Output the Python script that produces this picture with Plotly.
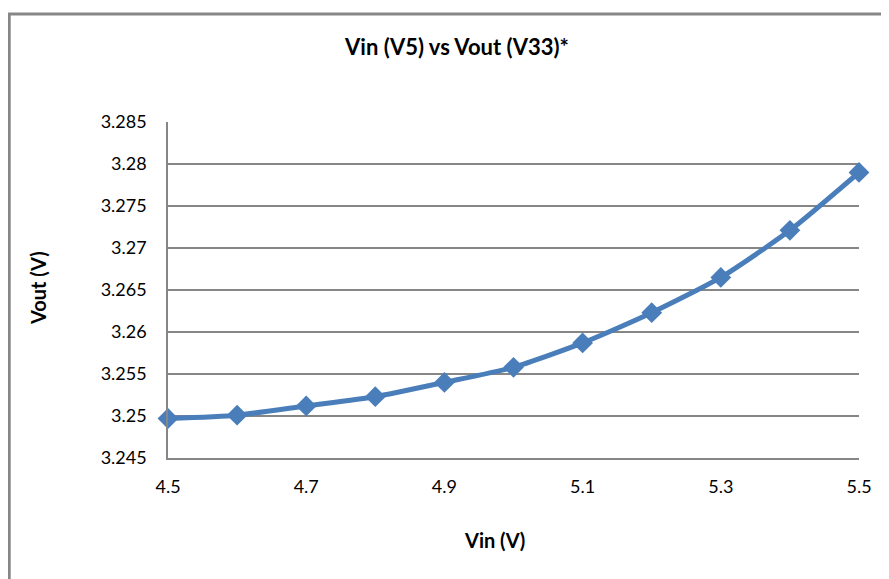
import plotly.graph_objects as go

vin = [4.5, 4.6, 4.7, 4.8, 4.9, 5.0, 5.1, 5.2, 5.3, 5.4, 5.5]
vout = [3.2497, 3.2501, 3.2512, 3.2523, 3.2540, 3.2558, 3.2587, 3.2623, 3.2665, 3.2721, 3.2790]
x_ticks = [4.5, 4.7, 4.9, 5.1, 5.3, 5.5]
y_ticks = [3.245, 3.25, 3.255, 3.26, 3.265, 3.27, 3.275, 3.28, 3.285]
y_labels = ["3.245", "3.25", "3.255", "3.26", "3.265", "3.27", "3.275", "3.28", "3.285"]

title_text = "Vin (V5) vs Vout (V33)*"
x_title = "Vin (V)"
y_title = "Vout (V)"

FONT = "Lato, 'Open Sans', sans-serif"
BLUE = "#4A7EBB"
GRID = "#868686"

fig = go.Figure()
fig.add_trace(go.Scatter(
    x=vin, y=vout, mode="lines+markers",
    line=dict(color=BLUE, width=5, shape="spline", smoothing=0.6),
    marker=dict(symbol="diamond", size=16, color=BLUE),
    showlegend=False, cliponaxis=False,
))

# page body has an 8px margin, so figure coords = screen coords - 8
W, H = 881, 571
ml, mr, mt, mb = 160, 30, 114, 121
pw, ph = W - ml - mr, H - mt - mb

def px(xp):
    return (xp - ml) / pw

def py(yp):
    return (H - mb - yp) / ph

fig.update_layout(
    width=W, height=H,
    margin=dict(l=ml, r=mr, t=mt, b=mb),
    paper_bgcolor="white", plot_bgcolor="white",
    font=dict(family=FONT, size=18, color="#000000"),
    title=dict(text="<b>" + title_text + "</b>", x=449 / W, xref="container", xanchor="center",
               y=1 - 39 / H, yref="container", yanchor="middle",
               font=dict(family=FONT, size=22, color="#000000")),
    xaxis=dict(range=[4.5, 5.5], tickvals=x_ticks, ticktext=[str(v) for v in x_ticks],
               showgrid=False, zeroline=False, showline=True, linecolor=GRID, linewidth=1.5,
               ticks="", ticklabelstandoff=12, tickfont=dict(size=18)),
    yaxis=dict(range=[3.245, 3.285], tickvals=y_ticks, ticktext=y_labels,
               showgrid=True, gridcolor=GRID, gridwidth=1.5, zeroline=False,
               showline=True, linecolor=GRID, linewidth=1.5,
               ticks="", ticklabelstandoff=16, tickfont=dict(size=18)),
    shapes=[
        dict(type="rect", xref="paper", yref="paper",
             x0=px(1.2), x1=px(W + 20), y0=py(H + 20), y1=py(6),
             line=dict(color="#878787", width=3), fillcolor="rgba(0,0,0,0)", layer="below"),
    ],
    annotations=[
        dict(text="<b>" + x_title + "</b>", xref="paper", yref="paper",
             x=px(486), y=py(532), xanchor="center", yanchor="middle", showarrow=False,
             font=dict(family=FONT, size=20)),
        dict(text="<b>" + y_title + "</b>", xref="paper", yref="paper",
             x=px(30), y=py(280), xanchor="center", yanchor="middle", showarrow=False,
             textangle=-90, font=dict(family=FONT, size=20)),
    ],
)

fig.write_html("out.html")
